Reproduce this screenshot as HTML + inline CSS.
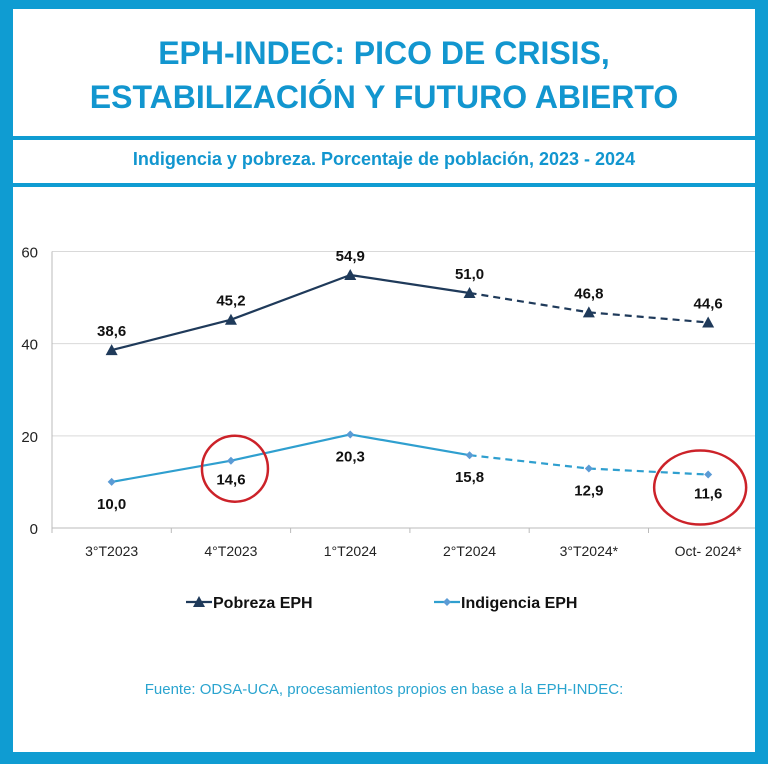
<!DOCTYPE html>
<html><head><meta charset="utf-8"><style>
body{margin:0;width:768px;height:764px;overflow:hidden;background:#fff;font-family:"Liberation Sans",sans-serif}
#wrap{position:absolute;left:0;top:0;width:768px;height:764px}
.bl{position:absolute;background:#0f9cd2}
.t{position:absolute;left:0;width:768px;text-align:center;color:#1296cf;font-weight:bold}
</style></head><body>
<div id="wrap">
<div class="bl" style="left:0;top:0;width:768px;height:9px"></div>
<div class="bl" style="left:0;top:0;width:13px;height:764px"></div>
<div class="bl" style="left:755px;top:0;width:13px;height:764px"></div>
<div class="bl" style="left:0;top:752px;width:768px;height:12px"></div>
<div class="bl" style="left:13px;top:136px;width:742px;height:4px"></div>
<div class="bl" style="left:13px;top:183px;width:742px;height:4px"></div>
<div class="t" style="top:31px;font-size:32px;line-height:44px">EPH-INDEC: PICO DE CRISIS,<br>ESTABILIZACIÓN Y FUTURO ABIERTO</div>
<div class="t" style="top:149px;font-size:18px">Indigencia y pobreza. Porcentaje de población, 2023 - 2024</div>
<div class="t" style="top:681px;font-size:15px;font-weight:normal;color:#2aa4cf">Fuente: ODSA-UCA, procesamientos propios en base a la EPH-INDEC:</div>
<svg id="chart" width="768" height="764" style="position:absolute;left:0;top:0"></svg>
</div>
<script>
const categories=["3°T2023","4°T2023","1°T2024","2°T2024","3°T2024*","Oct- 2024*"];
const pobreza=[38.6,45.2,54.9,51.0,46.8,44.6];
const indigencia=[10.0,14.6,20.3,15.8,12.9,11.6];
const yTicks=[0,20,40,60];
const circled=[1,5];
const NS="http://www.w3.org/2000/svg";
const svg=document.getElementById('chart');
const X0=52,STEP=119.3,Y0=528,YTOP=251.5,YMAX=60;
const xc=i=>X0+STEP*(i+0.5);
const y=v=>Y0-(v/YMAX)*(Y0-YTOP);
function mk(t,a){const e=document.createElementNS(NS,t);for(const k in a)e.setAttribute(k,a[k]);svg.appendChild(e);return e;}
const fmt=v=>v.toFixed(1).replace('.',',');
yTicks.forEach(v=>{
 const g=mk('line',{x1:X0,x2:755,y1:y(v),y2:y(v),stroke:v===0?'#bbb':'#d9d9d9','stroke-width':1});
 
 const t=mk('text',{x:38,y:y(v)+6,'text-anchor':'end','font-size':15,fill:'#222','font-family':'Liberation Sans'});
 t.textContent=v;
});
mk('line',{x1:X0,x2:X0,y1:YTOP,y2:Y0+5,stroke:'#bbb'});
categories.forEach((c,i)=>{
 const tk=mk('line',{x1:X0+STEP*i,x2:X0+STEP*i,y1:Y0,y2:Y0+5,stroke:'#bbb'});
 
 const t=mk('text',{x:xc(i),y:Y0+28,'text-anchor':'middle','font-size':14,fill:'#222','font-family':'Liberation Sans'});
 t.textContent=c;
});
function series(vals,color,name,marker,labelBelow){
 for(let i=0;i<vals.length-1;i++){
  const l=mk('line',{x1:xc(i),y1:y(vals[i]),x2:xc(i+1),y2:y(vals[i+1]),stroke:color,'stroke-width':2.2});
  if(i>=3)l.setAttribute('stroke-dasharray','7,5');
  
 }
 vals.forEach((v,i)=>{
  const cx=xc(i),cy=y(v);let m;
  if(marker==='tri')m=mk('polygon',{points:`${cx-6},${cy+5} ${cx+6},${cy+5} ${cx},${cy-6}`,fill:color});
  else m=mk('polygon',{points:`${cx},${cy-4} ${cx+4},${cy} ${cx},${cy+4} ${cx-4},${cy}`,fill:'#5b9bd5'});
  
  let ly=labelBelow?cy+27:cy-14;
  if(labelBelow&&(i===1||i===5))ly=cy+24;
  const t=mk('text',{x:cx,y:ly,'text-anchor':'middle','font-size':15,'font-weight':'bold',fill:'#111','font-family':'Liberation Sans'});
  t.textContent=fmt(v);
 });
}
series(pobreza,'#1f3a5a','pobreza','tri',false);
series(indigencia,'#2f9fcf','indigencia','dia',true);
circled.forEach(i=>{
 const big=i===5;
 const c=mk('ellipse',{cx:xc(i)+(big?-8:4),cy:y(indigencia[i])+(big?13:8),rx:big?46:33,ry:big?37:33,fill:'none',stroke:'#cc2229','stroke-width':2.5});
 
});
let l1=mk('line',{x1:186,x2:212,y1:602,y2:602,stroke:'#1f3a5a','stroke-width':2.2});

mk('polygon',{points:'193,607 205,607 199,596',fill:'#1f3a5a'});
let t1=mk('text',{x:213,y:608,'font-size':16,'font-weight':'bold',fill:'#111','font-family':'Liberation Sans'});
t1.textContent='Pobreza EPH';
let l2=mk('line',{x1:434,x2:460,y1:602,y2:602,stroke:'#2f9fcf','stroke-width':2.2});

mk('polygon',{points:'447,598 451,602 447,606 443,602',fill:'#5b9bd5'});
let t2=mk('text',{x:461,y:608,'font-size':16,'font-weight':'bold',fill:'#111','font-family':'Liberation Sans'});
t2.textContent='Indigencia EPH';
</script>
</body></html>
